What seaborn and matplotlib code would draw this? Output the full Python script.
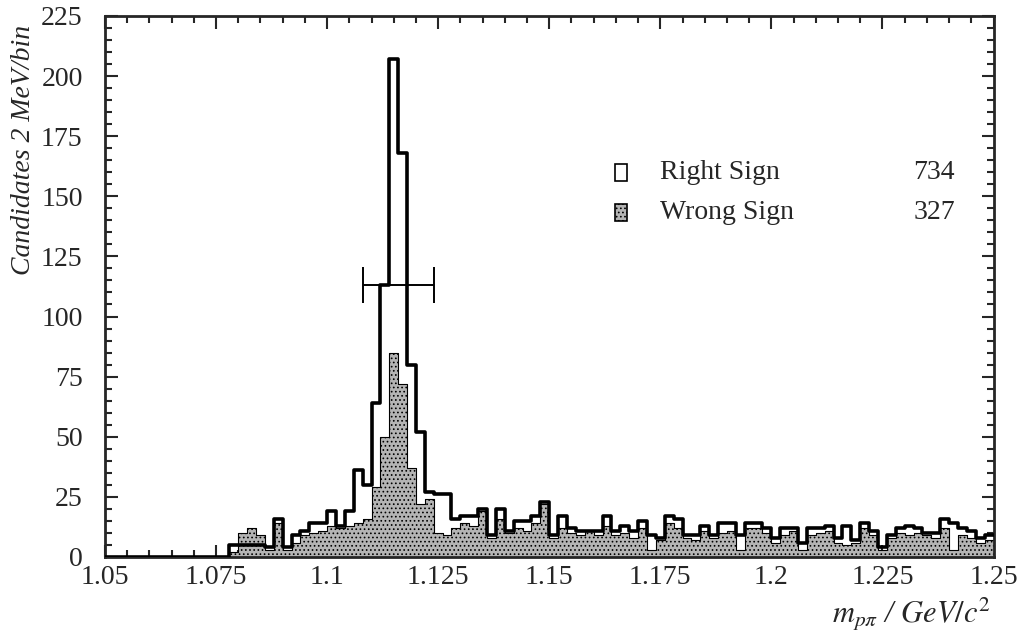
import numpy as np
import pandas as pd
import matplotlib
matplotlib.use("Agg")
import matplotlib.pyplot as plt
import seaborn as sns
from matplotlib.ticker import MultipleLocator, FuncFormatter
from matplotlib.patches import Rectangle

# histogram range: 100 bins of 2 MeV
mass_lo, mass_hi, n_bins = 1.05, 1.25, 100

right_sign = [0] * 14 + [
    5, 5, 5, 5, 4, 16, 4, 9, 11, 14, 14, 19, 13, 19, 36, 30,
    64, 113, 207, 168, 80, 52, 27, 26, 26, 16, 17, 17, 20, 9,
    20, 11, 15, 15, 17, 23, 9, 17, 12, 11, 11, 11, 17, 11, 13,
    11, 15, 9, 8, 17, 16, 9, 9, 13, 9, 14, 14, 9, 14, 14, 12,
    8, 12, 12, 6, 12, 12, 13, 8, 13, 7, 14, 11, 4, 9, 12, 13,
    12, 10, 10, 16, 14, 12, 11, 8, 9]
wrong_sign = [0] * 14 + [
    2, 10, 12, 9, 3, 14, 3, 6, 9, 10, 11, 13, 12, 13, 14, 16,
    29, 50, 85, 72, 37, 22, 24, 10, 9, 12, 14, 13, 19, 8,
    16, 10, 12, 11, 14, 22, 8, 12, 10, 9, 11, 9, 13, 9, 10,
    8, 12, 3, 7, 14, 12, 8, 7, 11, 8, 10, 11, 3, 12, 12, 10,
    6, 9, 11, 3, 9, 10, 11, 6, 5, 6, 12, 9, 3, 8, 10, 9,
    10, 9, 8, 12, 3, 9, 8, 6, 7]

legend_labels = ["Right Sign", "Wrong Sign"]
legend_counts = ["734", "327"]

# mass window marker
window_center, window_half, window_y = 1.116, 0.008, 113

width = (mass_hi - mass_lo) / n_bins
centers = mass_lo + width * (np.arange(n_bins) + 0.5)
df = pd.DataFrame({"mass": centers, "right": right_sign, "wrong": wrong_sign})

sns.set_style("ticks")
plt.rcParams["font.family"] = ["Liberation Serif", "DejaVu Serif"]
plt.rcParams["mathtext.fontset"] = "stix"
plt.rcParams["hatch.linewidth"] = 0.7

fill_col = "#b4b4b4"

fig = plt.figure(figsize=(10.32, 6.38), dpi=100)
ax = fig.add_axes([0.1017, 0.127, 0.861, 0.848])

sns.histplot(data=df, x="mass", weights="wrong", bins=n_bins,
             binrange=(mass_lo, mass_hi), element="step", fill=True,
             color=fill_col, edgecolor="black", linewidth=0.8, alpha=1,
             hatch="....", ax=ax, zorder=2)
sns.histplot(data=df, x="mass", weights="right", bins=n_bins,
             binrange=(mass_lo, mass_hi), element="step", fill=False,
             color="black", linewidth=2.6, ax=ax, zorder=3)

ax.errorbar(window_center, window_y, xerr=window_half, fmt="none",
            ecolor="black", elinewidth=1.4, capsize=13, capthick=1.4, zorder=4)

ax.set_xlim(mass_lo, mass_hi)
ax.set_ylim(0, 225)
ax.xaxis.set_major_locator(MultipleLocator(0.025))
ax.xaxis.set_minor_locator(MultipleLocator(0.005))
ax.yaxis.set_major_locator(MultipleLocator(25))
ax.yaxis.set_minor_locator(MultipleLocator(5))
ax.xaxis.set_major_formatter(FuncFormatter(lambda v, p: f"{round(v, 3):g}"))
ax.tick_params(which="both", direction="in", top=True, right=True,
               width=1.5, labelsize=20)
ax.tick_params(axis="x", pad=6)
ax.tick_params(axis="y", pad=16)
ax.tick_params(which="major", length=9)
ax.tick_params(which="minor", length=5)
for s in ax.spines.values():
    s.set_linewidth(2)
    s.set_visible(True)

ax.set_xlabel("")
ax.set_ylabel("Candidates 2 MeV/bin", fontsize=20, style="italic")
ax.yaxis.set_label_coords(-0.078, 0.752)
fig.text(0.96, 0.008, r"$m_{p\pi}$ / $GeV/c^2$", ha="right", va="bottom",
         fontsize=22, style="italic")

# legend drawn by hand, numbers in their own column
ax.add_patch(Rectangle((0.574, 0.695), 0.013, 0.032, transform=ax.transAxes,
                       facecolor="white", edgecolor="black", lw=1.2))
ax.add_patch(Rectangle((0.574, 0.621), 0.013, 0.032, transform=ax.transAxes,
                       facecolor=fill_col, edgecolor="black", lw=1.2,
                       hatch="...."))
for i, (lab, cnt) in enumerate(zip(legend_labels, legend_counts)):
    yy = 0.711 - 0.075 * i
    ax.text(0.625, yy, lab, transform=ax.transAxes, fontsize=20, va="center")
    ax.text(0.910, yy, cnt, transform=ax.transAxes, fontsize=20, va="center")

fig.savefig("out.png", dpi=100)
